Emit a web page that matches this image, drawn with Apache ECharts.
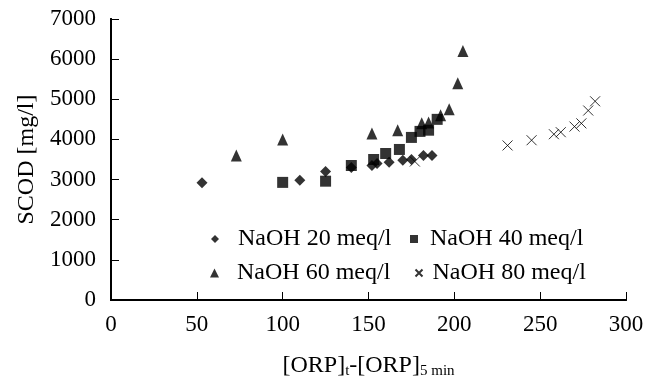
<!DOCTYPE html>
<html>
<head>
<meta charset="utf-8">
<script src="https://cdn.jsdelivr.net/npm/echarts@6/dist/echarts.min.js"></script>
<style>
  html, body { margin: 0; padding: 0; background: #fff; }
  #chart { width: 648px; height: 386px; }
</style>
</head>
<body>
<div id="chart"></div>
<script>
// NaOH 20 meq/l
const naoh20 = [
  [53, 2920], [110, 2980], [125, 3200], [140, 3300], [152, 3350], [155, 3400],
  [162, 3430], [170, 3480], [175, 3500], [182, 3600], [187, 3600]
];
// NaOH 40 meq/l
const naoh40 = [
  [100, 2930], [125, 2960], [140, 3350], [153, 3500], [160, 3650], [168, 3750],
  [175, 4050], [180, 4200], [185, 4230], [190, 4500]
];
// NaOH 60 meq/l
const naoh60 = [
  [73, 3600], [100, 4000], [152, 4150], [167, 4230], [181, 4400], [185, 4420],
  [192, 4600], [197, 4750], [202, 5400], [205, 6200]
];
// NaOH 80 meq/l
const naoh80 = [
  [177, 3450], [231, 3850], [245, 3980], [258, 4130], [262, 4180], [270, 4320],
  [274, 4400], [278, 4720], [282, 4950]
];
const seriesNames = ['NaOH 20 meq/l', 'NaOH 40 meq/l', 'NaOH 60 meq/l', 'NaOH 80 meq/l'];

const FONT = 'Liberation Serif';
const crossPath = 'path://M0,0L10,10M10,0L0,10';

// one legend per entry so each can sit exactly where the original puts it
const oneLegend = (name, icon, left, top, size, gap) => ({
  data: [{ name: name, icon: icon }],
  left: left, top: top, padding: 0, itemWidth: size, itemHeight: size,
  selectedMode: false,
  textStyle: { fontFamily: FONT, fontSize: 24, color: '#000', padding: [0, 0, 0, gap] }
});

const chart = echarts.init(document.getElementById('chart'));

chart.setOption({
  animation: false,
  backgroundColor: '#fff',
  textStyle: { fontFamily: FONT, color: '#000' },
  grid: { left: 111, right: 22, top: 19, bottom: 86 },
  legend: [
    oneLegend(seriesNames[0], 'diamond', 211, 227, 8, 14),
    oneLegend(seriesNames[1], 'rect', 410, 227, 8, 7),
    oneLegend(seriesNames[2], 'triangle', 210, 261, 9, 13),
    oneLegend(seriesNames[3], crossPath, 413, 261, 7, 5)
  ],
  xAxis: [
    {
      type: 'value', min: 0, max: 300, interval: 50,
      name: '{a|[ORP]}{s|t}{a|-[ORP]}{s|5 min}',
      nameLocation: 'middle', nameGap: 52,
      nameTextStyle: {
        rich: {
          a: { fontFamily: FONT, fontSize: 24, color: '#000' },
          s: { fontFamily: FONT, fontSize: 15, color: '#000', verticalAlign: 'bottom', padding: [12, 0, 0, 0] }
        }
      },
      axisLine: { lineStyle: { color: '#000', width: 2 } },
      axisTick: { inside: true, length: 8, lineStyle: { color: '#000', width: 1 } },
      axisLabel: { fontFamily: FONT, fontSize: 23, color: '#000', margin: 13 },
      splitLine: { show: false }
    },
    {
      type: 'value', min: 0, max: 300, position: 'top',
      axisLine: { show: true, lineStyle: { color: '#000', width: 2 } },
      axisTick: { show: false }, axisLabel: { show: false }, splitLine: { show: false }
    }
  ],
  yAxis: [
    {
      type: 'value', min: 0, max: 7000, interval: 1000,
      name: 'SCOD [mg/l]', nameLocation: 'middle', nameGap: 68,
      nameTextStyle: { fontFamily: FONT, fontSize: 24, color: '#000' },
      axisLine: { show: true, lineStyle: { color: '#000', width: 2 } },
      axisTick: { show: true, inside: true, length: 8, lineStyle: { color: '#000', width: 1 } },
      axisLabel: { fontFamily: FONT, fontSize: 23, color: '#000', margin: 15, formatter: v => String(v) },
      splitLine: { show: false }
    },
    {
      type: 'value', min: 0, max: 7000, position: 'right',
      axisLine: { show: true, lineStyle: { color: '#000', width: 2 } },
      axisTick: { show: false }, axisLabel: { show: false }, splitLine: { show: false }
    }
  ],
  series: [
    {
      name: seriesNames[0], type: 'scatter', data: naoh20,
      symbol: 'diamond', symbolSize: 11, itemStyle: { color: '#000' }
    },
    {
      name: seriesNames[1], type: 'scatter', data: naoh40,
      symbol: 'rect', symbolSize: 11, itemStyle: { color: '#000' }
    },
    {
      name: seriesNames[2], type: 'scatter', data: naoh60,
      symbol: 'triangle', symbolSize: [11, 12], itemStyle: { color: '#000' }
    },
    {
      name: seriesNames[3], type: 'scatter', data: naoh80,
      symbol: crossPath, symbolSize: 10,
      itemStyle: { color: 'none', borderColor: '#000', borderWidth: 1 }
    }
  ]
});
</script>
</body>
</html>
